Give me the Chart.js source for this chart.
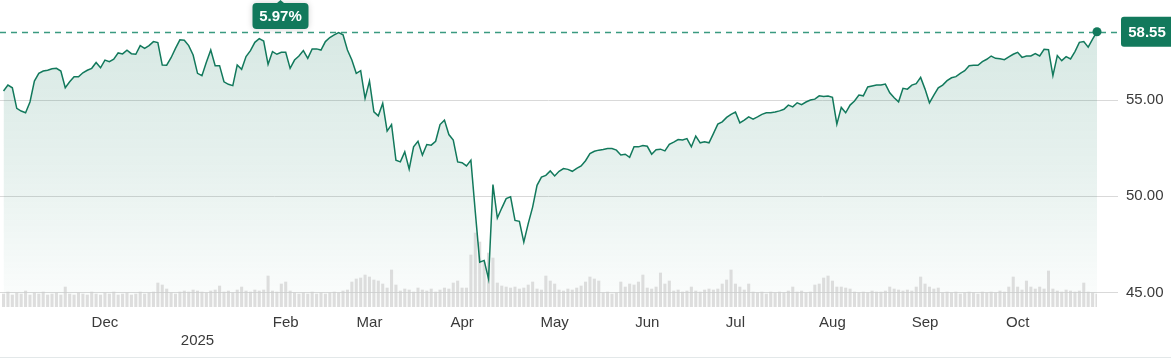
<!DOCTYPE html>
<html>
<head>
<meta charset="utf-8">
<script src="https://cdn.jsdelivr.net/npm/chart.js@4.4.1/dist/chart.umd.min.js"></script>
<style>
  html, body { margin: 0; padding: 0; background: #fff; }
  #wrap { position: relative; width: 1171px; height: 357px; border-bottom: 1px solid #e3e8e9; }
  canvas { display: block; }
</style>
</head>
<body>
<div id="wrap"><canvas id="c" width="1171" height="357"></canvas></div>
<script>
// ---- data ----
const startDate = '2024-10-29';
const marketHolidays = ['2024-11-28','2024-12-25','2025-01-01','2025-01-09','2025-01-20',
  '2025-02-17','2025-04-18','2025-05-26','2025-06-19','2025-07-04','2025-09-01'];

const prices = [
  55.47,55.78,55.64,54.57,54.43,54.34,54.90,55.99,56.39,56.51,
  56.55,56.63,56.65,56.51,55.64,55.95,56.21,56.21,56.42,56.55,
  56.65,56.95,56.68,57.08,57.00,57.12,57.45,57.40,57.59,57.41,
  57.38,57.83,57.69,57.83,58.04,57.99,56.82,56.81,57.20,57.69,
  58.13,58.11,57.83,57.34,56.39,56.27,56.96,57.60,56.79,56.79,
  55.95,55.82,55.75,56.82,56.60,57.26,57.57,58.00,58.19,58.07,
  56.86,57.52,57.38,57.48,57.48,56.65,57.08,57.29,57.57,57.17,
  57.66,57.66,57.60,58.04,58.25,58.39,58.51,58.39,57.60,57.08,
  56.39,56.53,55.09,55.99,54.39,54.18,54.83,53.39,53.73,51.88,
  51.79,52.31,51.41,52.57,52.86,52.14,52.69,52.66,52.86,53.73,
  53.96,53.21,52.92,51.79,51.75,51.58,51.88,49.18,46.58,46.67,
  45.71,50.61,48.87,49.39,49.88,49.97,48.75,48.70,47.62,48.58,
  49.44,50.57,51.00,51.09,51.32,51.06,51.30,51.44,51.40,51.30,
  51.45,51.58,51.85,52.22,52.34,52.40,52.43,52.48,52.48,52.40,
  52.15,52.19,52.03,52.58,52.57,52.64,52.60,52.19,52.42,52.45,
  52.36,52.70,52.82,52.95,52.93,53.00,52.57,53.13,52.78,52.83,
  52.78,53.26,53.75,53.87,54.10,54.26,54.38,53.82,53.96,54.13,
  54.01,54.13,54.26,54.34,54.34,54.38,54.44,54.52,54.74,54.65,
  54.86,54.76,54.90,55.00,55.05,55.22,55.19,55.21,55.14,53.75,
  54.62,54.34,54.74,54.95,55.26,55.22,55.68,55.73,55.78,55.78,
  55.83,55.38,55.12,54.91,55.61,55.57,55.78,55.85,56.18,55.57,
  54.86,55.26,55.64,55.78,56.01,56.16,56.22,56.39,56.53,56.79,
  56.81,56.81,57.00,57.12,57.29,57.17,57.15,57.10,57.24,57.38,
  57.48,57.22,57.29,57.29,57.41,57.29,57.64,57.62,56.27,57.31,
  57.05,57.26,57.14,57.52,58.00,58.04,57.75,58.17,58.55
];

const volumes = [ // millions of shares
  1.3,1.5,1.2,1.4,1.3,1.6,1.2,1.4,1.3,1.5,
  1.2,1.3,1.4,1.2,2.0,1.3,1.2,1.4,1.3,1.2,
  1.5,1.3,1.2,1.4,1.3,1.5,1.2,1.3,1.4,1.2,
  1.3,1.5,1.3,1.4,1.5,2.4,2.2,1.8,1.4,1.3,
  1.5,1.6,1.5,1.7,1.6,1.5,1.4,1.6,1.7,2.1,
  1.5,1.6,1.4,1.7,2.0,1.6,1.5,1.7,1.6,1.7,
  3.1,1.6,1.5,2.3,2.5,1.6,1.4,1.3,1.4,1.3,
  1.5,1.3,1.4,1.3,1.4,1.5,1.4,1.6,1.7,2.5,
  2.8,2.9,3.2,3.0,2.7,2.6,2.3,1.9,3.7,2.2,
  1.6,1.8,1.7,1.5,1.9,1.7,1.6,1.8,1.5,1.7,
  1.9,1.8,2.4,2.6,1.9,1.9,5.2,7.4,6.5,4.5,
  5.4,4.9,2.4,2.1,2.0,1.9,2.0,1.8,1.9,2.2,
  2.5,1.8,1.7,3.1,2.6,2.3,1.7,1.6,1.8,1.7,
  1.9,2.1,2.5,3.0,2.8,2.6,1.4,1.5,1.3,1.4,
  2.5,2.0,2.3,2.2,2.5,3.2,1.9,1.8,2.0,3.4,
  2.3,2.6,1.6,1.7,1.5,1.6,2.0,1.6,1.5,1.7,
  1.8,1.7,1.8,2.3,2.7,3.7,2.3,2.0,1.7,2.3,
  1.5,1.4,1.5,1.3,1.5,1.4,1.5,1.4,1.6,2.0,
  1.5,1.6,1.4,1.5,2.2,2.3,2.9,3.1,2.6,2.0,
  2.0,1.9,1.8,1.5,1.4,1.5,1.4,1.6,1.5,1.5,
  1.6,2.0,1.8,1.7,1.6,1.7,1.6,2.0,3.0,2.3,
  2.0,1.8,1.9,1.4,1.5,1.4,1.5,1.3,1.4,1.5,
  1.4,1.3,1.5,1.4,1.5,1.4,1.6,1.5,2.0,3.0,
  2.0,1.7,2.6,2.0,1.8,2.0,1.8,3.6,1.8,1.6,
  1.5,1.7,1.6,1.5,1.6,2.4,1.5,1.4,1.3
];

const monthNames = ['Jan','Feb','Mar','Apr','May','Jun','Jul','Aug','Sep','Oct','Nov','Dec'];
const yTickValues = [45, 50, 55];
const changeLabel = '5.97%';

// ---- build trading-day categories ----
function tradingDays(start, n) {
  const out = [];
  const d = new Date(start + 'T12:00:00Z');
  while (out.length < n) {
    const dow = d.getUTCDay();
    const iso = d.toISOString().slice(0, 10);
    if (dow !== 0 && dow !== 6 && !marketHolidays.includes(iso)) out.push(iso);
    d.setUTCDate(d.getUTCDate() + 1);
  }
  return out;
}
const dates = tradingDays(startDate, prices.length);

// month ticks: first trading day of each month (skipping the partial first month)
const monthTicks = [];
dates.forEach((iso, i) => {
  if (i === 0) return;
  if (iso.slice(5, 7) !== dates[i - 1].slice(5, 7) && i > 10) {
    const m = +iso.slice(5, 7) - 1;
    monthTicks.push({ idx: i, label: m === 0 ? ['', iso.slice(0, 4)] : monthNames[m] });
  }
});

const GREEN = '#12795c';
const FONT = '"Liberation Sans", Arial, sans-serif';

function roundRect(ctx, x, y, w, h, r) {
  ctx.beginPath();
  ctx.moveTo(x + r, y);
  ctx.lineTo(x + w - r, y);
  ctx.quadraticCurveTo(x + w, y, x + w, y + r);
  ctx.lineTo(x + w, y + h - r);
  ctx.quadraticCurveTo(x + w, y + h, x + w - r, y + h);
  ctx.lineTo(x + r, y + h);
  ctx.quadraticCurveTo(x, y + h, x, y + h - r);
  ctx.lineTo(x, y + r);
  ctx.quadraticCurveTo(x, y, x + r, y);
  ctx.closePath();
}

const noPad = (s) => { s.paddingTop = 0; s.paddingBottom = 0; s.paddingLeft = 0; s.paddingRight = 0; };

const overlay = {
  id: 'overlay',
  beforeDatasetsDraw(chart) {
    const { ctx, chartArea: a, scales: { y } } = chart;
    const last = prices[prices.length - 1];
    const py = Math.round(y.getPixelForValue(last)) + 0.5;
    ctx.save();
    ctx.strokeStyle = '#3a9a80';
    ctx.lineWidth = 1.3;
    ctx.setLineDash([6, 5]);
    ctx.beginPath();
    ctx.moveTo(a.left, py);
    ctx.lineTo(a.right + 20, py);
    ctx.stroke();
    ctx.restore();
  },
  afterDraw(chart) {
    const { ctx, chartArea: a, scales: { x, y } } = chart;
    const li = prices.length - 1;
    const px = x.getPixelForValue(li);
    const py = y.getPixelForValue(prices[li]);
    ctx.save();
    // end dot
    ctx.fillStyle = GREEN;
    ctx.beginPath();
    ctx.arc(px, py, 4.5, 0, Math.PI * 2);
    ctx.fill();
    // right value badge
    const bx = a.right + 24, bw = 52, bh = 30;
    ctx.fillStyle = GREEN;
    roundRect(ctx, bx, py - bh / 2, bw, bh, 3);
    ctx.fill();
    ctx.fillStyle = '#fff';
    ctx.font = 'bold 15px ' + FONT;
    ctx.textAlign = 'center';
    ctx.textBaseline = 'middle';
    ctx.fillText(prices[li].toFixed(2), bx + 26, py + 1);
    // top change badge
    const cx = a.left + 280.5, ty = 3, tw = 56, th = 26;
    ctx.shadowColor = 'rgba(0,0,0,0.18)';
    ctx.shadowBlur = 6;
    ctx.fillStyle = GREEN;
    roundRect(ctx, cx - tw / 2, ty, tw, th, 4);
    ctx.fill();
    ctx.shadowBlur = 0;
    ctx.beginPath();
    ctx.moveTo(cx - 4, ty + 0.5);
    ctx.lineTo(cx, ty - 3);
    ctx.lineTo(cx + 4, ty + 0.5);
    ctx.closePath();
    ctx.fill();
    ctx.fillStyle = '#fff';
    ctx.fillText(changeLabel, cx, ty + th / 2 + 1);
    ctx.restore();
  }
};

const ctx = document.getElementById('c').getContext('2d');
new Chart(ctx, {
  type: 'bar',
  data: {
    datasets: [
      {
        type: 'line',
        label: 'Price',
        data: prices.map((v, i) => ({ x: i, y: v })),
        yAxisID: 'y',
        borderColor: GREEN,
        borderWidth: 1.5,
        pointRadius: 0,
        tension: 0,
        fill: 'start',
        backgroundColor: (c) => {
          const area = c.chart.chartArea;
          if (!area) return 'rgba(18,121,92,0.12)';
          const g = c.chart.ctx.createLinearGradient(0, area.top, 0, area.bottom);
          g.addColorStop(0, 'rgba(18,121,92,0.18)');
          g.addColorStop(0.55, 'rgba(18,121,92,0.10)');
          g.addColorStop(1, 'rgba(18,121,92,0.01)');
          return g;
        },
        order: 0
      },
      {
        type: 'bar',
        label: 'Volume',
        data: volumes.map((v, i) => ({ x: i, y: v })),
        yAxisID: 'yv',
        backgroundColor: 'rgba(205,205,205,0.65)',
        barThickness: 2.4,
        order: 1
      }
    ]
  },
  options: {
    responsive: false,
    animation: false,
    events: [],
    layout: { padding: 0 },
    plugins: {
      legend: { display: false },
      tooltip: { enabled: false },
      filler: { drawTime: 'beforeDatasetsDraw' }
    },
    scales: {
      x: {
        type: 'linear',
        offset: false,
        min: -0.8,
        max: prices.length - 1,
        grid: { display: false, drawTicks: false },
        border: { display: false },
        afterBuildTicks: (s) => { s.ticks = monthTicks.map(t => ({ value: t.idx })); },
        afterFit: (s) => { s.height = 50; noPad(s); },
        ticks: {
          autoSkip: false,
          maxRotation: 0,
          padding: 7,
          color: '#3a3a3a',
          font: { family: FONT, size: 15 },
          callback: (v) => { const t = monthTicks.find(m => m.idx === v); return t ? t.label : ''; }
        }
      },
      y: {
        position: 'right',
        min: 44.25,
        max: 60.2,
        grid: { color: '#d9d9d9', lineWidth: 1, drawTicks: true, tickLength: 21 },
        border: { display: false },
        afterBuildTicks: (s) => { s.ticks = yTickValues.map(v => ({ value: v })); },
        afterFit: (s) => { s.width = 74; noPad(s); },
        ticks: {
          padding: 8,
          color: '#3a3a3a',
          font: { family: FONT, size: 15 },
          callback: (v) => v.toFixed(2)
        }
      },
      yv: {
        display: false,
        min: 0,
        max: 30.7
      }
    }
  },
  plugins: [overlay]
});
</script>
</body>
</html>
